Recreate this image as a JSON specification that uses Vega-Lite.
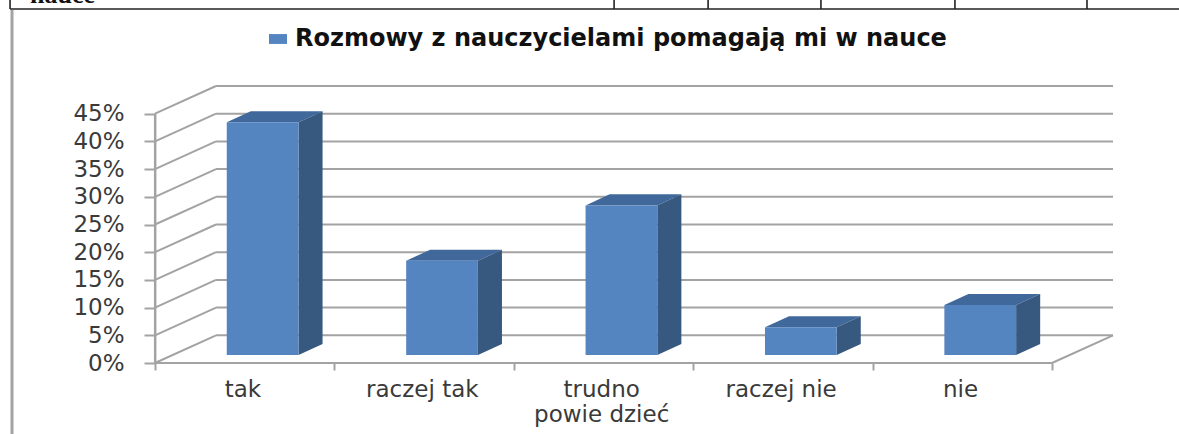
{"$schema":"https://vega.github.io/schema/vega-lite/v6.json","autosize":"none","width":958,"height":277,"padding":{"left":155,"top":86,"right":66,"bottom":71},"background":"white","view":{"stroke":null},
"datasets":{"slupki":[{"kategoria":"tak","etykieta":"tak","seria":"Rozmowy z nauczycielami pomagają mi w nauce","poz":0,"wartosc":42},{"kategoria":"raczej tak","etykieta":"raczej tak","seria":"Rozmowy z nauczycielami pomagają mi w nauce","poz":1,"wartosc":17},{"kategoria":"trudno powie dzieć","etykieta":"trudno\npowie dzieć","seria":"Rozmowy z nauczycielami pomagają mi w nauce","poz":2,"wartosc":27},{"kategoria":"raczej nie","etykieta":"raczej nie","seria":"Rozmowy z nauczycielami pomagają mi w nauce","poz":3,"wartosc":5},{"kategoria":"nie","etykieta":"nie","seria":"Rozmowy z nauczycielami pomagają mi w nauce","poz":4,"wartosc":9}],
"poziomy":[{"poziom":0},{"poziom":5},{"poziom":10},{"poziom":15},{"poziom":20},{"poziom":25},{"poziom":30},{"poziom":35},{"poziom":40},{"poziom":45}],
"tabela":[{"a":-0.808,"b":5.708,"c":63.9,"d":63.9},{"a":-0.808,"b":-0.808,"c":63.9,"d":66},{"a":2.559,"b":2.559,"c":63.9,"d":66},{"a":3.083,"b":3.083,"c":63.9,"d":66},{"a":3.712,"b":3.712,"c":63.9,"d":66},{"a":4.459,"b":4.459,"c":63.9,"d":66},{"a":5.195,"b":5.195,"c":63.9,"d":66}]},
"encoding":{"x":{"type":"quantitative","scale":{"domain":[0,5.34],"nice":false,"zero":false},"axis":{"values":[0,1,2,3,4,5],"labels":false,"domain":false,"grid":false,"title":null,"tickSize":7,"tickWidth":2,"tickColor":"#a3a3a3"}},"y":{"type":"quantitative","scale":{"domain":[0,50],"nice":false},"axis":{"values":[0,5,10,15,20,25,30,35,40,45],"labelExpr":"datum.value+'%'","labelOverlap":false,"labelSeparation":0,"domain":false,"grid":false,"title":null,"ticks":true,"tickSize":11,"tickWidth":2,"tickColor":"#a3a3a3","tickOpacity":1,"labelFont":"DejaVu Sans","labelFontSize":23,"labelColor":"#3a3a3a","labelPadding":20}}},
"layer":[
{"data":{"name":"poziomy"},"transform":[{"calculate":"datum.poziom+5","as":"tyl"},{"calculate":"0.34","as":"p"},{"calculate":"5.34","as":"k"}],"mark":{"type":"rule","color":"#a3a3a3","strokeWidth":2},
"encoding":{"x":{"field":"p"},"x2":{"field":"k"},"y":{"field":"tyl"}}},
{"data":{"name":"poziomy"},"transform":[{"calculate":"datum.poziom+5","as":"tyl"},{"calculate":"0","as":"p"},{"calculate":"0.34","as":"k"}],"mark":{"type":"rule","color":"#a3a3a3","strokeWidth":2},
"encoding":{"x":{"field":"p"},"x2":{"field":"k"},"y":{"field":"poziom"},"y2":{"field":"tyl"}}},
{"data":{"values":[{"a":0,"b":5,"c":0},{"a":5,"b":5.34,"c":0,"d":5}]},"mark":{"type":"rule","color":"#a3a3a3","strokeWidth":2},
"encoding":{"x":{"field":"a"},"x2":{"field":"b"},"y":{"field":"c"},"y2":{"field":"d"}}},
{"data":{"values":[{"a":0.001,"b":0.001,"c":0,"d":45}]},"mark":{"type":"rule","color":"#a3a3a3","strokeWidth":2.5},
"encoding":{"x":{"field":"a"},"x2":{"field":"b"},"y":{"field":"c"},"y2":{"field":"d"}}},
{"data":{"name":"slupki"},"transform":[{"calculate":"[0,1,2,3]","as":"n"},{"flatten":["n"]},{"calculate":"datum.poz+[0.40,0.534,0.80,0.934][datum.n]","as":"px"},{"calculate":"1.45+datum.wartosc+(datum.n==0?0:2)","as":"g"},{"calculate":"1.45+datum.wartosc+(datum.n==3?2:0)","as":"d"}],"mark":{"type":"area","color":"#41689a","interpolate":"linear"},
"encoding":{"x":{"field":"px"},"y":{"field":"g"},"y2":{"field":"d"},"detail":{"field":"kategoria"}}},
{"data":{"name":"slupki"},"transform":[{"calculate":"[0,1]","as":"n"},{"flatten":["n"]},{"calculate":"datum.poz+0.80+datum.n*0.134","as":"px"},{"calculate":"1.45+datum.wartosc+datum.n*2","as":"g"},{"calculate":"1.45+datum.n*2","as":"d"}],"mark":{"type":"area","color":"#37587f","interpolate":"linear"},
"encoding":{"x":{"field":"px"},"y":{"field":"g"},"y2":{"field":"d"},"detail":{"field":"kategoria"}}},
{"data":{"name":"slupki"},"transform":[{"calculate":"datum.poz+0.40","as":"x0"},{"calculate":"datum.poz+0.80","as":"x1"},{"calculate":"1.45","as":"p"},{"calculate":"1.45+datum.wartosc","as":"g"}],"mark":{"type":"rect"},
"encoding":{"x":{"field":"x0"},"x2":{"field":"x1"},"y":{"field":"g"},"y2":{"field":"p"},"color":{"field":"seria","type":"nominal","scale":{"range":["#5585c1"]},"legend":{"orient":"none","legendX":111,"legendY":-59,"title":null,"symbolType":"M-1,-0.55H1V0.55H-1Z","symbolSize":324,"symbolStrokeWidth":0,"labelFont":"DejaVu Sans","labelFontWeight":"bold","labelFontSize":24,"labelColor":"#111111","labelLimit":900,"labelOffset":5}}}},
{"data":{"name":"slupki"},"transform":[{"calculate":"datum.poz+0.49","as":"s"},{"calculate":"0","as":"z"}],"mark":{"type":"text","font":"DejaVu Sans","fontSize":23,"color":"#3a3a3a","baseline":"top","align":"center","dy":16,"lineBreak":"\n","lineHeight":25},
"encoding":{"x":{"field":"s"},"y":{"field":"z"},"text":{"field":"etykieta"}}},
{"data":{"name":"tabela"},"mark":{"type":"rule","color":"#222222","strokeWidth":1.6},
"encoding":{"x":{"field":"a"},"x2":{"field":"b"},"y":{"field":"c"},"y2":{"field":"d"}}},
{"data":{"values":[{"a":-0.797,"c":63.7,"d":-13}]},"mark":{"type":"rule","color":"#a3a3a3","strokeWidth":3},
"encoding":{"x":{"field":"a"},"y":{"field":"c"},"y2":{"field":"d"}}},
{"data":{"values":[{"a":-0.697,"c":65.05,"t":"nauce"}]},"mark":{"type":"text","font":"Liberation Serif","fontSize":26,"fontWeight":"bold","color":"#111111","align":"left","baseline":"alphabetic"},
"encoding":{"x":{"field":"a"},"y":{"field":"c"},"text":{"field":"t"}}}
]}
